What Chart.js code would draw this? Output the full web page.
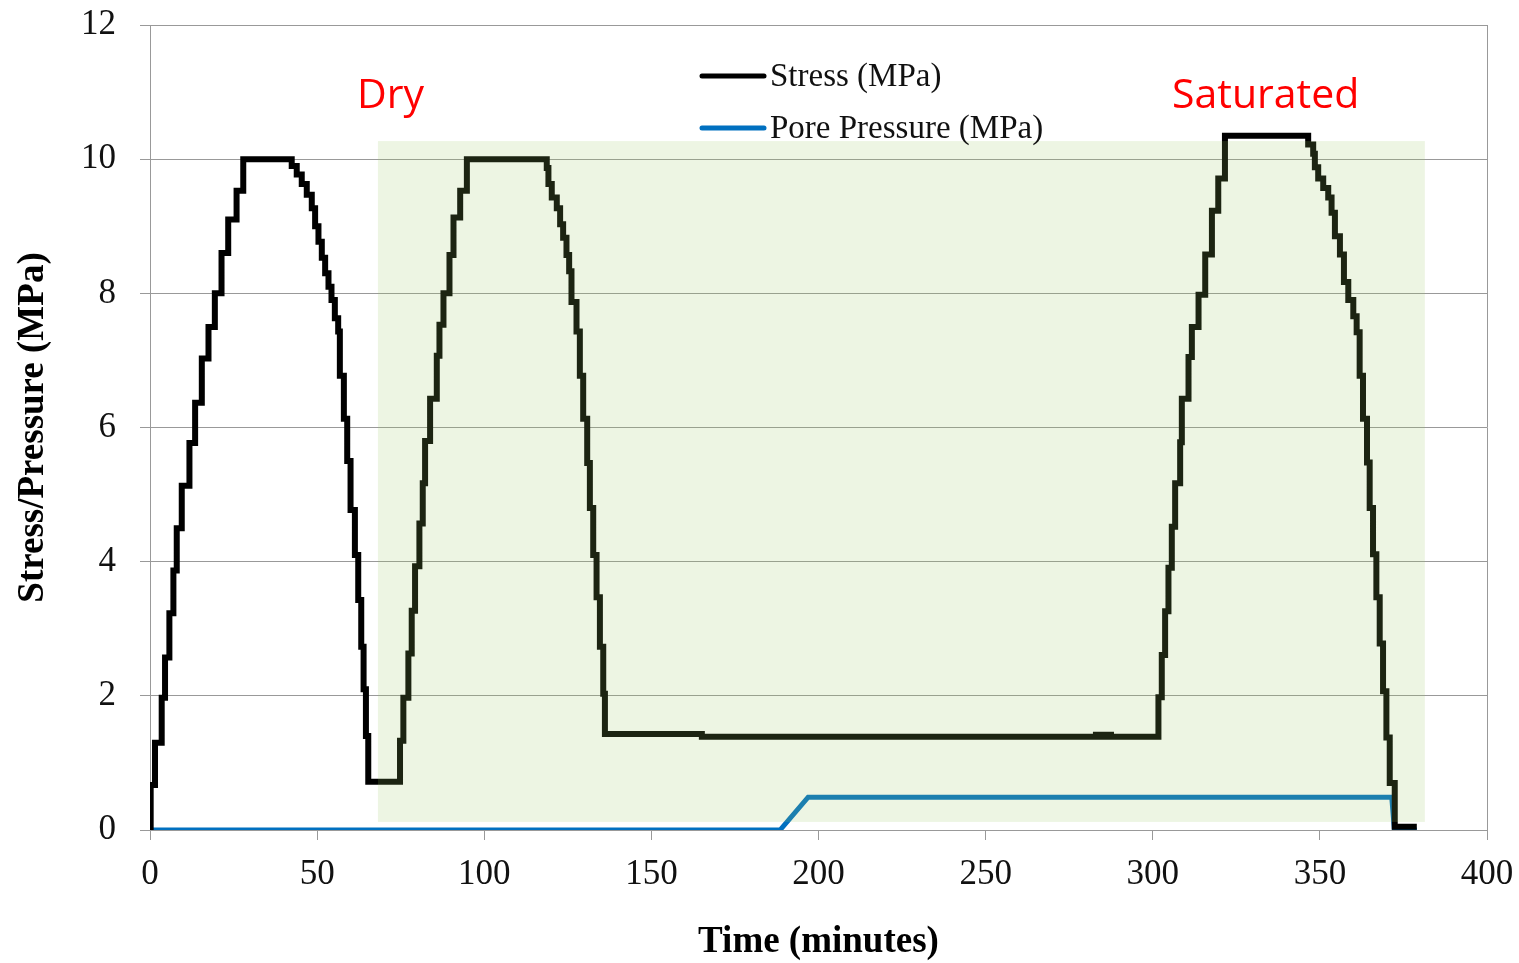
<!DOCTYPE html>
<html>
<head>
<meta charset="utf-8">
<script src="https://cdn.jsdelivr.net/npm/chart.js@4/dist/chart.umd.min.js"></script>
<style>
  html, body { margin: 0; padding: 0; background: #fff; }
  #wrap { width: 1519px; height: 963px; position: relative; }
</style>
</head>
<body>
<div id="wrap"><canvas id="c"></canvas></div>
<script>
// ---- data ----
// Stress (MPa): value changes to stressValue[i] at time stressTime[i] (minutes)
const stressTime = [
  0, 0.2, 1.5, 3.5, 4.5, 5.8, 7.0, 8.0, 9.5, 11.8, 13.5, 15.5, 17.5, 19.4, 21.4, 23.4, 25.9, 27.9,
  40.9, 42.4, 43.9, 45.4, 46.9, 48.4, 49.4, 50.4, 51.4, 52.4, 53.4, 54.3, 55.3, 56.3, 56.8, 58.0,
  59.0, 60.0, 61.3, 62.3, 63.2, 63.9, 64.6, 65.3,
  74.8, 75.8, 77.3, 78.3, 79.3, 80.6, 81.6, 82.3, 83.8, 85.8, 86.6, 87.8, 89.6, 90.8, 92.8, 94.8,
  117.2, 118.7, 119.2, 120.2, 121.7, 122.7, 123.6, 124.6, 125.4, 126.1, 127.6, 128.6, 129.6,
  130.8, 131.6, 132.6, 133.6, 134.6, 135.6, 136.1,
  165.1, 283.0, 284.5, 286.0, 287.5,
  301.7, 302.7, 303.7, 304.7, 305.7, 306.7, 308.2, 308.7, 310.7, 311.7, 313.7, 315.7, 317.7, 319.6, 321.6,
  345.0, 346.5, 348.0, 348.5, 349.5, 351.0, 352.5, 353.5, 354.5, 356.0, 357.2, 358.5, 360.0, 361.0,
  361.9, 362.9, 364.1, 364.9, 365.9, 366.9, 367.9, 368.9, 369.9, 370.9, 372.4, 379.0
];
const stressValue = [
  0, 0.67, 1.3, 1.97, 2.57, 3.23, 3.87, 4.5, 5.13, 5.77, 6.37, 7.03, 7.5, 8.0, 8.6, 9.1, 9.53, 10.0,
  10.0, 9.9, 9.77, 9.63, 9.47, 9.27, 9.0, 8.77, 8.53, 8.3, 8.1, 7.9, 7.63, 7.43, 6.77, 6.13,
  5.5, 4.77, 4.1, 3.43, 2.73, 2.1, 1.4, 0.72,
  1.33, 1.97, 2.63, 3.27, 3.93, 4.57, 5.17, 5.8, 6.43, 7.07, 7.53, 8.0, 8.57, 9.13, 9.53, 10.0,
  10.0, 9.87, 9.63, 9.43, 9.27, 9.03, 8.83, 8.57, 8.33, 7.87, 7.43, 6.77, 6.13,
  5.47, 4.8, 4.1, 3.47, 2.73, 2.03, 1.43,
  1.39, 1.42, 1.39, 1.42, 1.39,
  1.98, 2.61, 3.26, 3.91, 4.52, 5.17, 5.78, 6.43, 7.05, 7.5, 7.98, 8.58, 9.23, 9.71, 10.35,
  10.35, 10.22, 10.08, 9.88, 9.71, 9.57, 9.43, 9.2, 8.85, 8.58, 8.17, 7.9, 7.66, 7.42,
  6.77, 6.13, 5.48, 4.8, 4.11, 3.47, 2.78, 2.07, 1.38, 0.7, 0.05, 0.05
];
// Pore pressure (MPa)
const poreTime  = [0, 188.5, 196.9, 371.5, 372.3, 379.0];
const poreValue = [0, 0, 0.49, 0.49, 0, 0];

const seriesLabels = ['Stress (MPa)', 'Pore Pressure (MPa)'];
const xTickValues = [0, 50, 100, 150, 200, 250, 300, 350, 400];
const yTickValues = [0, 2, 4, 6, 8, 10, 12];
const regionLabels = ['Dry', 'Saturated'];
// shaded region in data units: [tStart, tEnd, vBottom, vTop]
const shadedRegion = [68.2, 381.4, 0.12, 10.27];

// ---- chart ----
const stressPts = stressTime.map((t, i) => ({x: t, y: stressValue[i]}));
const porePts = poreTime.map((t, i) => ({x: t, y: poreValue[i]}));

const overlayPlugin = {
  id: 'overlay',
  afterDatasetsDraw(chart) {
    const {ctx, scales: {x, y}} = chart;
    const x0 = x.getPixelForValue(shadedRegion[0]);
    const x1 = x.getPixelForValue(shadedRegion[1]);
    const y0 = y.getPixelForValue(shadedRegion[3]);
    const y1 = y.getPixelForValue(shadedRegion[2]);
    ctx.save();
    ctx.fillStyle = 'rgba(153,198,102,0.18)';
    ctx.fillRect(x0, y0, x1 - x0, y1 - y0);
    ctx.restore();
  },
  afterDraw(chart) {
    const {ctx, chartArea: ca} = chart;
    ctx.save();
    // right border of plot area
    ctx.strokeStyle = '#999';
    ctx.lineWidth = 1;
    ctx.beginPath();
    ctx.moveTo(Math.round(ca.right) + 0.5, ca.top);
    ctx.lineTo(Math.round(ca.right) + 0.5, ca.bottom);
    ctx.stroke();
    // legend
    const ds = chart.data.datasets;
    const legendRows = [76, 128];
    ds.forEach((d, i) => {
      const yy = legendRows[i];
      ctx.strokeStyle = d.borderColor;
      ctx.lineWidth = 5;
      ctx.lineCap = 'round';
      ctx.beginPath();
      ctx.moveTo(702, yy);
      ctx.lineTo(764, yy);
      ctx.stroke();
      ctx.fillStyle = '#111';
      ctx.font = '33px "Liberation Serif", "Times New Roman", serif';
      ctx.textBaseline = 'middle';
      ctx.textAlign = 'left';
      ctx.fillText(d.label, 770, yy + 1);
    });
    // region labels
    ctx.fillStyle = '#ff0000';
    ctx.font = '41px "Open Sans", sans-serif';
    ctx.textBaseline = 'alphabetic';
    ctx.fillText(regionLabels[0], 357, 108);
    ctx.fillText(regionLabels[1], 1172, 108);
    ctx.restore();
  }
};

const tickFont = {family: '"Liberation Serif", "Times New Roman", serif', size: 35};
const titleFont = {family: '"Liberation Serif", "Times New Roman", serif', size: 37, weight: 'bold', lineHeight: 1};

new Chart(document.getElementById('c'), {
  type: 'line',
  data: {
    datasets: [
      {
        label: seriesLabels[0],
        data: stressPts,
        borderColor: '#000000',
        borderWidth: 6,
        stepped: 'before',
        pointRadius: 0,
        fill: false,
        order: 0
      },
      {
        label: seriesLabels[1],
        data: porePts,
        borderColor: '#0070C0',
        borderWidth: 5,
        tension: 0,
        pointRadius: 0,
        fill: false,
        order: 1
      }
    ]
  },
  options: {
    responsive: true,
    maintainAspectRatio: false,
    animation: false,
    events: [],
    layout: {padding: {top: 25, right: 32, left: 0, bottom: 0}},
    plugins: {legend: {display: false}, tooltip: {enabled: false}},
    scales: {
      x: {
        type: 'linear',
        min: 0, max: 400,
        afterBuildTicks: (s) => { s.ticks = xTickValues.map(v => ({value: v})); },
        afterFit: (s) => { s.height = 133; s.paddingLeft = 0; s.paddingRight = 0; },
        ticks: {font: tickFont, color: '#111', padding: 14, maxRotation: 0, autoSkip: false},
        grid: {drawOnChartArea: false, drawTicks: true, tickLength: 10, color: '#999'},
        border: {color: '#999', width: 1},
        title: {display: true, text: 'Time (minutes)', font: titleFont, color: '#000', padding: {top: 0, bottom: 2}}
      },
      y: {
        type: 'linear',
        min: 0, max: 12,
        afterBuildTicks: (s) => { s.ticks = yTickValues.map(v => ({value: v})); },
        afterFit: (s) => { s.width = 150; s.paddingTop = 0; s.paddingBottom = 0; },
        ticks: {font: tickFont, color: '#111', padding: 24, autoSkip: false},
        grid: {color: '#999', tickLength: 10, lineWidth: 1},
        border: {color: '#999', width: 1},
        title: {display: true, text: 'Stress/Pressure (MPa)', font: titleFont, color: '#000', padding: {top: 15, bottom: 0}}
      }
    }
  },
  plugins: [overlayPlugin]
});
</script>
</body>
</html>
